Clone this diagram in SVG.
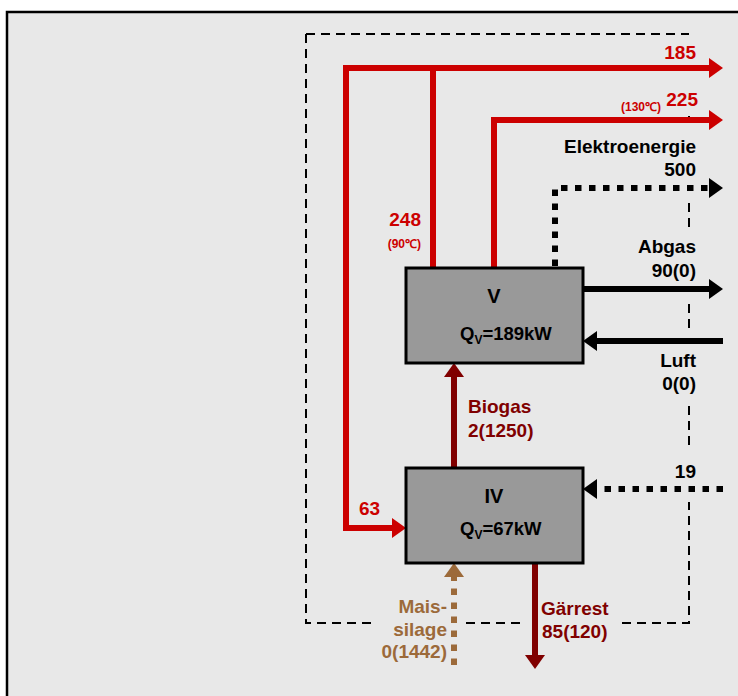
<svg xmlns="http://www.w3.org/2000/svg" width="738" height="696" viewBox="0 0 738 696">
<defs>
<style>
text{font-family:"Liberation Sans",Arial,Helvetica,sans-serif;font-weight:bold;font-size:19px}
.r{fill:#cc0000}.k{fill:#000}.d{fill:#800000}.b{fill:#9c6a3a}
.sm{font-size:12px}
.ttl{font-size:20px}
.q{font-size:18.5px}
.end{text-anchor:end}.mid{text-anchor:middle}
.box{fill:#999999;stroke:#000;stroke-width:3}
.ln{fill:none;stroke-width:6;stroke-linejoin:miter;stroke-linecap:butt}
.dot{stroke-dasharray:6.5 7.5}
.dash{fill:none;stroke:#000;stroke-width:2;stroke-dasharray:9 6}
</style>
<marker id="aR" markerUnits="userSpaceOnUse" markerWidth="14" markerHeight="20" refX="0" refY="10" orient="auto" overflow="visible"><path d="M0,0L14,10L0,20z" fill="#cc0000"/></marker>
<marker id="aK" markerUnits="userSpaceOnUse" markerWidth="14" markerHeight="20" refX="0" refY="10" orient="auto" overflow="visible"><path d="M0,0L14,10L0,20z" fill="#000"/></marker>
<marker id="aD" markerUnits="userSpaceOnUse" markerWidth="14" markerHeight="20" refX="0" refY="10" orient="auto" overflow="visible"><path d="M0,0L14,10L0,20z" fill="#800000"/></marker>
<marker id="aB" markerUnits="userSpaceOnUse" markerWidth="14" markerHeight="20" refX="0" refY="10" orient="auto" overflow="visible"><path d="M0,0L14,10L0,20z" fill="#9c6a3a"/></marker>
</defs>
<rect x="0" y="0" width="738" height="696" fill="#fff"/>
<rect x="7" y="12" width="760" height="720" fill="#e8e8e8" stroke="#000" stroke-width="2.5"/>
<g id="boundary">
<path class="dash" d="M306,34H689M306,34V623H374M466,623H523M622,623H689V502M689,445V403M689,328V302M689,227V202M689,116V123"/>
</g>
<g id="connectors">
<path class="ln" stroke="#cc0000" d="M433,268V68H709" marker-end="url(#aR)"/>
<path class="ln" stroke="#cc0000" d="M433,68H346V528H392" marker-end="url(#aR)"/>
<path class="ln" stroke="#cc0000" d="M494,268V120H709" marker-end="url(#aR)"/>
<path class="ln dot" stroke="#000" d="M555,266V188H709" marker-end="url(#aK)"/>
<path class="ln" stroke="#000" d="M584,289H709" marker-end="url(#aK)"/>
<path class="ln" stroke="#000" d="M723,341H597" marker-end="url(#aK)"/>
<path class="ln dot" stroke="#000" d="M723,489H597" marker-end="url(#aK)"/>
<path class="ln" stroke="#800000" d="M454,467V377" marker-end="url(#aD)"/>
<path class="ln" stroke="#800000" d="M535,564V655" marker-end="url(#aD)"/>
<path class="ln dot" stroke="#9c6a3a" d="M454,665V577" marker-end="url(#aB)"/>
</g>
<g id="node-V">
<rect class="box" x="406" y="268" width="177" height="95"/>
<text class="k mid ttl" x="494" y="303">V</text>
<text class="k q" x="460" y="340">Q<tspan style="font-size:12px" dy="4">V</tspan><tspan dy="-4">=189kW</tspan></text>
</g>
<g id="node-IV">
<rect class="box" x="406" y="468" width="177" height="95"/>
<text class="k mid ttl" x="494" y="503">IV</text>
<text class="k q" x="460" y="535">Q<tspan style="font-size:12px" dy="4">V</tspan><tspan dy="-4">=67kW</tspan></text>
</g>
<g id="labels">
<text class="r end" x="696" y="59">185</text>
<text class="r end" x="698" y="106">225</text>
<text class="r end sm" x="661" y="111">(130℃)</text>
<text class="k end" x="696" y="153">Elektroenergie</text>
<text class="k end" x="696" y="176">500</text>
<text class="k end" x="696" y="253">Abgas</text>
<text class="k end" x="696" y="277">90(0)</text>
<text class="k end" x="696" y="367">Luft</text>
<text class="k end" x="696" y="390">0(0)</text>
<text class="k end" x="696" y="478">19</text>
<text class="r end" x="421" y="226">248</text>
<text class="r end sm" x="421" y="248">(90℃)</text>
<text class="r" x="359" y="515">63</text>
<text class="d" x="468" y="413">Biogas</text>
<text class="d" x="468" y="437">2(1250)</text>
<text class="d" x="541" y="615">Gärrest</text>
<text class="d" x="542" y="638">85(120)</text>
<text class="b end" x="447" y="613">Mais-</text>
<text class="b end" x="447" y="636">silage</text>
<text class="b end" x="447" y="658">0(1442)</text>
</g>
</svg>
